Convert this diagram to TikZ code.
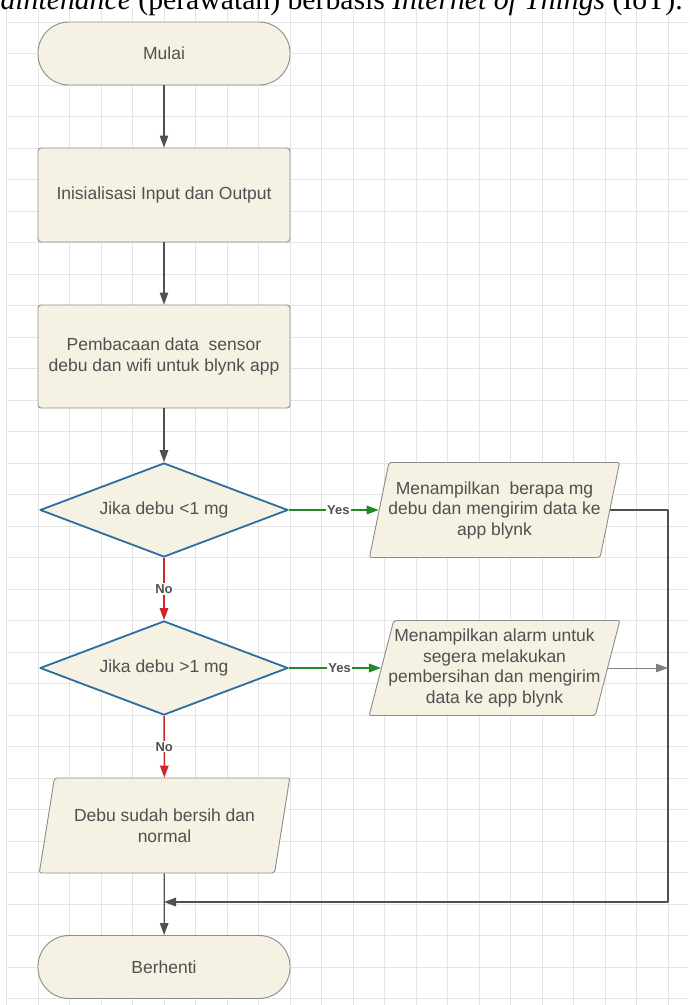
\documentclass[tikz,border=0pt]{standalone}
\usepackage{fontspec}
\setmainfont{Liberation Sans}
\newfontfamily\capfont{Liberation Serif}
\usepackage{tikz}
\usetikzlibrary{arrows.meta,shapes.geometric}
\definecolor{cream}{HTML}{F5F1E3}
\definecolor{edge}{HTML}{8C8C8C}
\definecolor{ink}{HTML}{505050}
\definecolor{dblue}{HTML}{2E6E9E}
\definecolor{ygreen}{HTML}{1F8B24}
\definecolor{nred}{HTML}{D0262B}
\definecolor{wire}{HTML}{505050}
\tikzset{
  every picture/.style={line join=round, >={Triangle[length=12pt,width=8.5pt]}},
  terminal/.style={draw=edge, fill=cream, rounded corners=31pt, minimum width=252pt, minimum height=63pt, line width=0.9pt},
  process/.style={draw=edge, fill=cream, rounded corners=3pt, minimum width=252pt, line width=0.9pt, align=center},
  decision/.style={diamond, aspect=2.64, draw=dblue, fill=cream, line width=1.8pt, minimum width=248pt, minimum height=94pt, inner sep=0pt},
  data/.style={trapezium, trapezium left angle=74.5, trapezium right angle=105.5, trapezium stretches=true, draw=edge, fill=cream, rounded corners=2pt, minimum width=251pt, minimum height=95pt, inner xsep=-10pt, align=center, line width=0.9pt},
  txt/.style={text=ink, font=\fontsize{17.5}{20.5}\selectfont},
  flow/.style={->, wire, line width=1.3pt},
  yes/.style={->, ygreen, line width=1.8pt},
  no/.style={->, nred, line width=1.5pt},
  lbl/.style={fill=white, inner sep=1pt, text=ink, font=\bfseries\fontsize{13}{14}\selectfont},
  gridline/.style={gray!20, line width=0.7pt},
}

\begin{document}
\begin{tikzpicture}[x=1pt,y=-1pt]
\useasboundingbox (0,0) rectangle (689,1005);
\clip (0,0) rectangle (689,1005);
\fill[white] (0,0) rectangle (689,1005);
\foreach \i in {0,...,21} \draw[gridline] ({6.5+31.5*\i},8) -- ({6.5+31.5*\i},1005);
\foreach \j in {0,...,31} \draw[gridline] (6.5,{22+31.5*\j}) -- (689,{22+31.5*\j});
\node[anchor=base west, inner sep=0pt, font=\capfont\fontsize{29.7}{30}\selectfont] (judul) at (-21,9.5) {\textit{maintenance} (perawatan) berbasis \textit{Internet of Things} (IoT).};
\node[terminal,txt] (mulai) at (164,53.5) {Mulai};
\node[process,txt,minimum height=94pt] (init) at (164,195) {Inisialisasi Input dan Output};
\node[process,txt,minimum height=103pt] (baca) at (164,356.5) {Pembacaan data~ sensor\\debu dan wifi untuk blynk app};
\node[decision,txt] (cek1) at (164,510) {Jika debu <1 mg};
\node[data,txt] (tampil1) at (494.5,510) {Menampilkan~ berapa mg\\debu dan mengirim data ke\\app blynk};
\node[decision,txt] (cek2) at (164,668) {Jika debu >1 mg};
\node[data,txt] (alarm) at (494.5,668) {Menampilkan alarm untuk\\segera melakukan\\pembersihan dan mengirim\\data ke app blynk};
\node[data,txt] (bersih) at (164.5,825.5) {Debu sudah bersih dan\\normal};
\node[terminal,txt] (stop) at (164,967) {Berhenti};
\coordinate (kanan) at (668,902);
\draw[flow] (mulai) -- (init);
\draw[flow] (init) -- (baca);
\draw[flow] (baca) -- (cek1);
\draw[yes] (cek1) -- node[lbl,pos=0.55]{Yes} (tampil1);
\draw[no] (cek1) -- node[lbl]{No} (cek2);
\draw[yes] (cek2) -- node[lbl,pos=0.55]{Yes} (alarm);
\draw[no] (cek2) -- node[lbl]{No} (bersih);
\draw[flow] (bersih) -- (stop);
\draw[->, wire, line width=1.8pt] (tampil1.east) -- (tampil1.east -| kanan) -- (kanan) -- (kanan -| stop.north);
\draw[->, gray, line width=1pt] (alarm.east) -- (alarm.east -| kanan);
\end{tikzpicture}
\end{document}
